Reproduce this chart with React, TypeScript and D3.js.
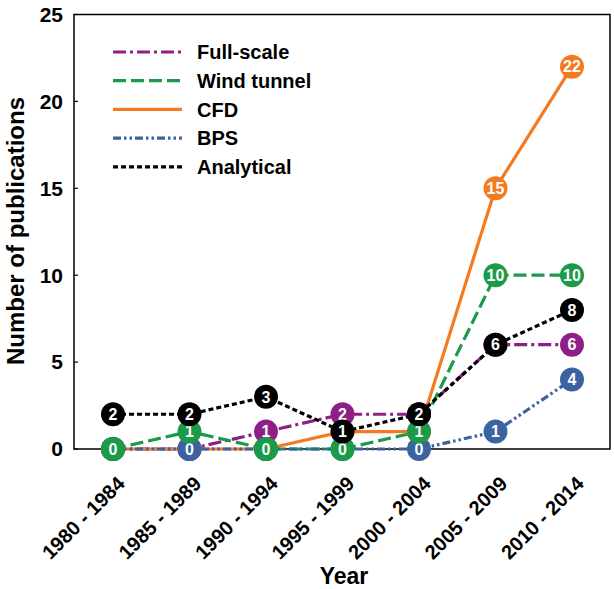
import React from "react";
import * as d3 from "d3";

const categories = ["1980 - 1984", "1985 - 1989", "1990 - 1994", "1995 - 1999", "2000 - 2004", "2005 - 2009", "2010 - 2014"];
const fullScale = [0, 0, 1, 2, 2, 6, 6];
const windTunnel = [0, 1, 0, 0, 1, 10, 10];
const cfd = [0, 0, 0, 1, 1, 15, 22];
const bps = [0, 0, 0, 0, 0, 1, 4];
const analytical = [2, 2, 3, 1, 2, 6, 8];
const yTicks = [0, 5, 10, 15, 20, 25];

const seriesDefs = [
  { name: "Full-scale", values: fullScale, color: "#8E1F87", dash: "13,4,3,4" },
  { name: "Wind tunnel", values: windTunnel, color: "#1B9A47", dash: "13,5" },
  { name: "CFD", values: cfd, color: "#F47A20", dash: "" },
  { name: "BPS", values: bps, color: "#3A63A0", dash: "8,3,2.5,3,2.5,3" },
  { name: "Analytical", values: analytical, color: "#000000", dash: "5,3" },
];
// marker drawing order (bottom to top)
const markerOrder = ["CFD", "Full-scale", "BPS", "Wind tunnel", "Analytical"];

const W = 614, H = 589;
const left = 74, right = 610, top = 14.5, bottom = 449;

export default function App() {
  const x = d3.scalePoint<string>().domain(categories).range([113, 572]);
  const y = d3.scaleLinear().domain([0, 25]).range([bottom, top]);
  const line = d3.line<number>().x((_, i) => x(categories[i])!).y((d) => y(d));
  const font = "Arial, 'Liberation Sans', sans-serif";

  return (
    <svg width={W} height={H} style={{ position: "absolute", left: 0, top: 0, background: "#fff" }} fontFamily={font}>
      <rect x={left} y={top} width={right - left} height={bottom - top} fill="none" stroke="#000" strokeWidth={1.5} />
      {yTicks.map((t) => (
        <g key={t}>
          <line x1={left} x2={left + 4} y1={y(t)} y2={y(t)} stroke="#000" strokeWidth={1.2} />
          <text x={63} y={y(t)} dy="0.35em" textAnchor="end" fontSize={21} fontWeight="bold">{t}</text>
        </g>
      ))}
      {categories.map((c) => (
        <text key={c} transform={`translate(${x(c)! + 13},${485}) rotate(-45)`} textAnchor="end" fontSize={20} fontWeight="bold">{c}</text>
      ))}
      <text x={344} y={584} textAnchor="middle" fontSize={23} fontWeight="bold">Year</text>
      <text transform={`translate(24,${231}) rotate(-90)`} textAnchor="middle" fontSize={24} fontWeight="bold">Number of publications</text>

      {seriesDefs.map((s) => (
        <path key={s.name} d={line(s.values)!} fill="none" stroke={s.color} strokeWidth={3.2} strokeDasharray={s.dash || undefined} />
      ))}
      {markerOrder.map((n) => {
        const s = seriesDefs.find((d) => d.name === n)!;
        return (
          <g key={n}>
            {s.values.map((v, i) => (
              <g key={i} transform={`translate(${x(categories[i])},${y(v)})`}>
                <circle r={12} fill={s.color} />
                <text dy="0.36em" textAnchor="middle" fill="#fff" fontSize={16} fontWeight="bold">{v}</text>
              </g>
            ))}
          </g>
        );
      })}

      {seriesDefs.map((s, i) => {
        const ly = 52 + i * 28.7;
        return (
          <g key={s.name}>
            <line x1={113} x2={182} y1={ly} y2={ly} stroke={s.color} strokeWidth={3.2} strokeDasharray={s.dash || undefined} />
            <text x={197} y={ly} dy="0.36em" fontSize={20} fontWeight="bold">{s.name}</text>
          </g>
        );
      })}
    </svg>
  );
}
